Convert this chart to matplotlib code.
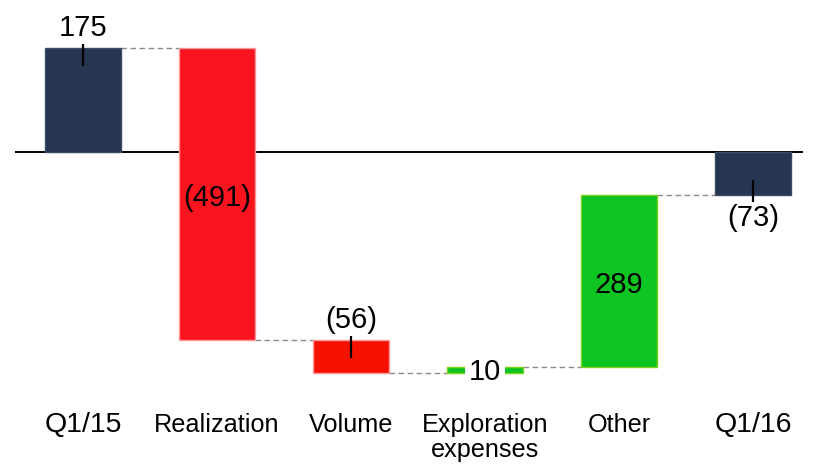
import matplotlib
matplotlib.use("Agg")
import matplotlib.pyplot as plt
import numpy as np

categories = ["Q1/15", "Realization", "Volume", "Exploration\nexpenses", "Other", "Q1/16"]
changes = [175, -491, -56, 10, 289, -73]
kinds = ["total", "delta", "delta", "delta", "delta", "total"]
value_labels = ["175", "(491)", "(56)", "10", "289", "(73)"]

face_colors = ["#263650", "#F9141E", "#F51200", "#0EC422", "#0EC422", "#263650"]
edge_colors = ["#3B4B68", "#FF9A9A", "#FF9A9A", "#7AD31A", "#7AD31A", "#3B4B68"]
label_pos = ["above_tick", "inside", "above_tick", "inside_box", "inside", "below_tick"]
cat_sizes = [20.5, 18.2, 18.2, 18.2, 18.2, 20.5]

plt.rcParams["font.family"] = ["Liberation Sans", "DejaVu Sans"]

W, H = 816, 465
fig = plt.figure(figsize=(W / 100, H / 100), dpi=100)
ax = fig.add_axes([0, 0, 1, 1])
ax.set_axis_off()

PX = 0.595  # pixels per data unit
zero_px = 152
ytop = zero_px / PX
ybot = -(H - zero_px) / PX
ax.set_ylim(ybot, ytop)
ax.set_xlim(-83 / 134, 5 + (W - 753) / 134)

x = np.arange(len(categories))
width = 0.56

bottoms, tops, levels = [], [], []
running = 0
for c, k in zip(changes, kinds):
    if k == "total":
        b, t = 0, c
        running = c
    else:
        b, t = running, running + c
        running += c
    bottoms.append(min(b, t))
    tops.append(max(b, t))
    levels.append(running)

ax.hlines(0, -0.507, 5.37, color="black", lw=1.4, zorder=1)

ax.bar(x, np.array(tops) - np.array(bottoms), bottom=bottoms, width=width,
       color=face_colors, edgecolor=edge_colors, linewidth=1, zorder=2)

for i in range(len(x) - 1):
    ax.hlines(levels[i], x[i] + width / 2, x[i + 1] - width / 2,
              color="#8C8C8C", lw=1, linestyles=(0, (4, 2.5)), zorder=1.5)

u = 1 / PX
for i in range(len(x)):
    lab = value_labels[i]
    pos = label_pos[i]
    mid = (tops[i] + bottoms[i]) / 2
    if pos == "above_tick":
        ax.vlines(x[i], tops[i] - 18 * u, tops[i] + 4 * u, color="black", lw=1.6, zorder=3)
        ax.text(x[i], tops[i] + 12 * u, lab, ha="center", va="baseline", fontsize=21, zorder=4)
    elif pos == "below_tick":
        ax.vlines(x[i], bottoms[i] - 7 * u, bottoms[i] + 15 * u, color="black", lw=1.6, zorder=3)
        ax.text(x[i], bottoms[i] - 31 * u, lab, ha="center", va="baseline", fontsize=21, zorder=4)
    elif pos == "inside":
        ax.text(x[i], mid - 12 * u, lab, ha="center", va="baseline", fontsize=21, zorder=4)
    else:
        ax.text(x[i], mid - 10 * u, lab, ha="center", va="baseline", fontsize=21, zorder=4,
                bbox=dict(facecolor="white", edgecolor="none", pad=2.5))

base_px = 432
for i, cat in enumerate(categories):
    for j, line in enumerate(cat.split("\n")):
        ypx = base_px + j * 25
        ax.text(x[i], (zero_px - ypx) / PX, line, ha="center", va="baseline",
                fontsize=cat_sizes[i], color="black")

fig.savefig("out.png", dpi=100)
